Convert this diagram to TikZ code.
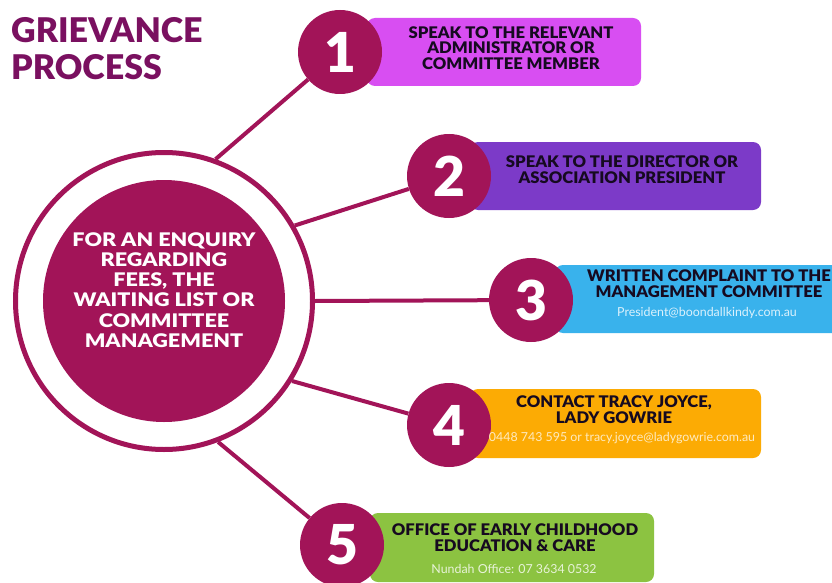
\documentclass[tikz,border=0pt]{standalone}
\usepackage{fontspec}
\IfFontExistsTF{Lato Black}{\setmainfont{Lato}[BoldFont={Lato Black}]
  \newfontfamily\hubfont{Lato Black}[FakeStretch=1.15]
  \newfontfamily\headfont{Lato Black}[FakeStretch=1.04]}
 {\setmainfont{Lato}
  \newfontfamily\hubfont{Lato}[FakeStretch=1.15]
  \newfontfamily\headfont{Lato}[FakeStretch=1.04]}
\usetikzlibrary{backgrounds}
\definecolor{mag}{RGB}{162,20,88}
\definecolor{titlec}{RGB}{122,16,96}
\definecolor{boxa}{RGB}{216,78,242}
\definecolor{boxb}{RGB}{124,58,200}
\definecolor{boxc}{RGB}{57,178,236}
\definecolor{boxd}{RGB}{252,171,4}
\definecolor{boxe}{RGB}{140,195,65}
\definecolor{ink}{RGB}{22,10,32}
\begin{document}
\begin{tikzpicture}[x=1pt,y=-1pt,
  num/.style={circle, fill=mag, minimum size=84pt, inner sep=0pt, text=white, font=\bfseries\fontsize{55}{55}\selectfont},
  boxst/.style={rectangle, rounded corners=8pt, minimum height=68pt, inner sep=0pt},
  head/.style={font=\headfont\fontsize{16}{15.5}\selectfont, text=ink, align=center, inner sep=0pt},
  sub/.style={font=\fontsize{12.4}{13}\selectfont, inner sep=0pt},
  ttl/.style={anchor=base west, inner sep=0pt, text=titlec, font=\bfseries\fontsize{34}{36}\selectfont},
  link/.style={draw=mag, line width=4pt}]
\useasboundingbox (0,0) rectangle (832,583);
\clip (0,0) rectangle (832,583);

% title
\node[ttl] (title1) at (11,43) {GRIEVANCE};
\node[ttl] (title2) at (11,80) {PROCESS};

% hub
\node[circle, draw=mag, line width=5pt, minimum size=297pt, inner sep=0pt] (ring) at (164,301) {};
\node[circle, fill=mag, minimum size=242pt, inner sep=0pt] (hub) at (164,301) {};
\node[align=center, text=white, inner sep=0pt, font=\hubfont\fontsize{18.75}{20.2}\selectfont] (hubtxt) at (164,290)
  {FOR AN ENQUIRY\\REGARDING\\FEES, THE\\WAITING LIST OR\\COMMITTEE\\MANAGEMENT};

% boxes
\node[boxst, fill=boxa, minimum width=274pt] (b1) at (504,52) {};
\node[boxst, fill=boxb, minimum width=291pt] (b2) at (615.5,176) {};
\node[boxst, fill=boxc, minimum width=294pt] (b3) at (702,299) {};
\node[boxst, fill=boxd, minimum width=291pt, minimum height=69pt] (b4) at (615.5,423.5) {};
\node[boxst, fill=boxe, minimum width=284pt, minimum height=69pt] (b5) at (512,547.5) {};

% number circles
\node[num] (n1) at (340,52) {1};
\node[num] (n2) at (449,176) {2};
\node[num] (n3) at (531,300) {3};
\node[num] (n4) at (449,425) {4};
\node[num] (n5) at (342,545) {5};

% box texts
\node[head] (t1) at (511,48) {SPEAK TO THE RELEVANT\\ADMINISTRATOR OR\\COMMITTEE MEMBER};
\node[head] (t2) at (622,169.5) {SPEAK TO THE DIRECTOR OR\\ASSOCIATION PRESIDENT};
\node[head] (t3) at (709,283.5) {WRITTEN COMPLAINT TO THE\\MANAGEMENT COMMITTEE};
\node[sub, text=white!82!boxc] (s3) at (707,313) {President@boondallkindy.com.au};
\node[head] (t4) at (614,409.5) {CONTACT TRACY JOYCE,\\LADY GOWRIE};
\node[sub, text=white!75!boxd] (s4) at (622,438) {0448 743 595 or tracy.joyce@ladygowrie.com.au};
\node[head] (t5) at (515,537.5) {OFFICE OF EARLY CHILDHOOD\\EDUCATION \& CARE};
\node[sub, text=white!80!boxe] (s5) at (514,569) {Nundah Office: 07 3634 0532};

% connectors (behind everything else)
\begin{scope}[on background layer]
\fill[white] (0,0) rectangle (832,583);
\draw[link] (ring.70) -- (n1);
\draw[link] (ring.30.7) -- (n2);
\draw[link] (ring.0) -- (n3);
\draw[link] (ring.-32) -- (n4);
\draw[link] (ring.-69) -- (n5);
\end{scope}
\end{tikzpicture}
\end{document}
